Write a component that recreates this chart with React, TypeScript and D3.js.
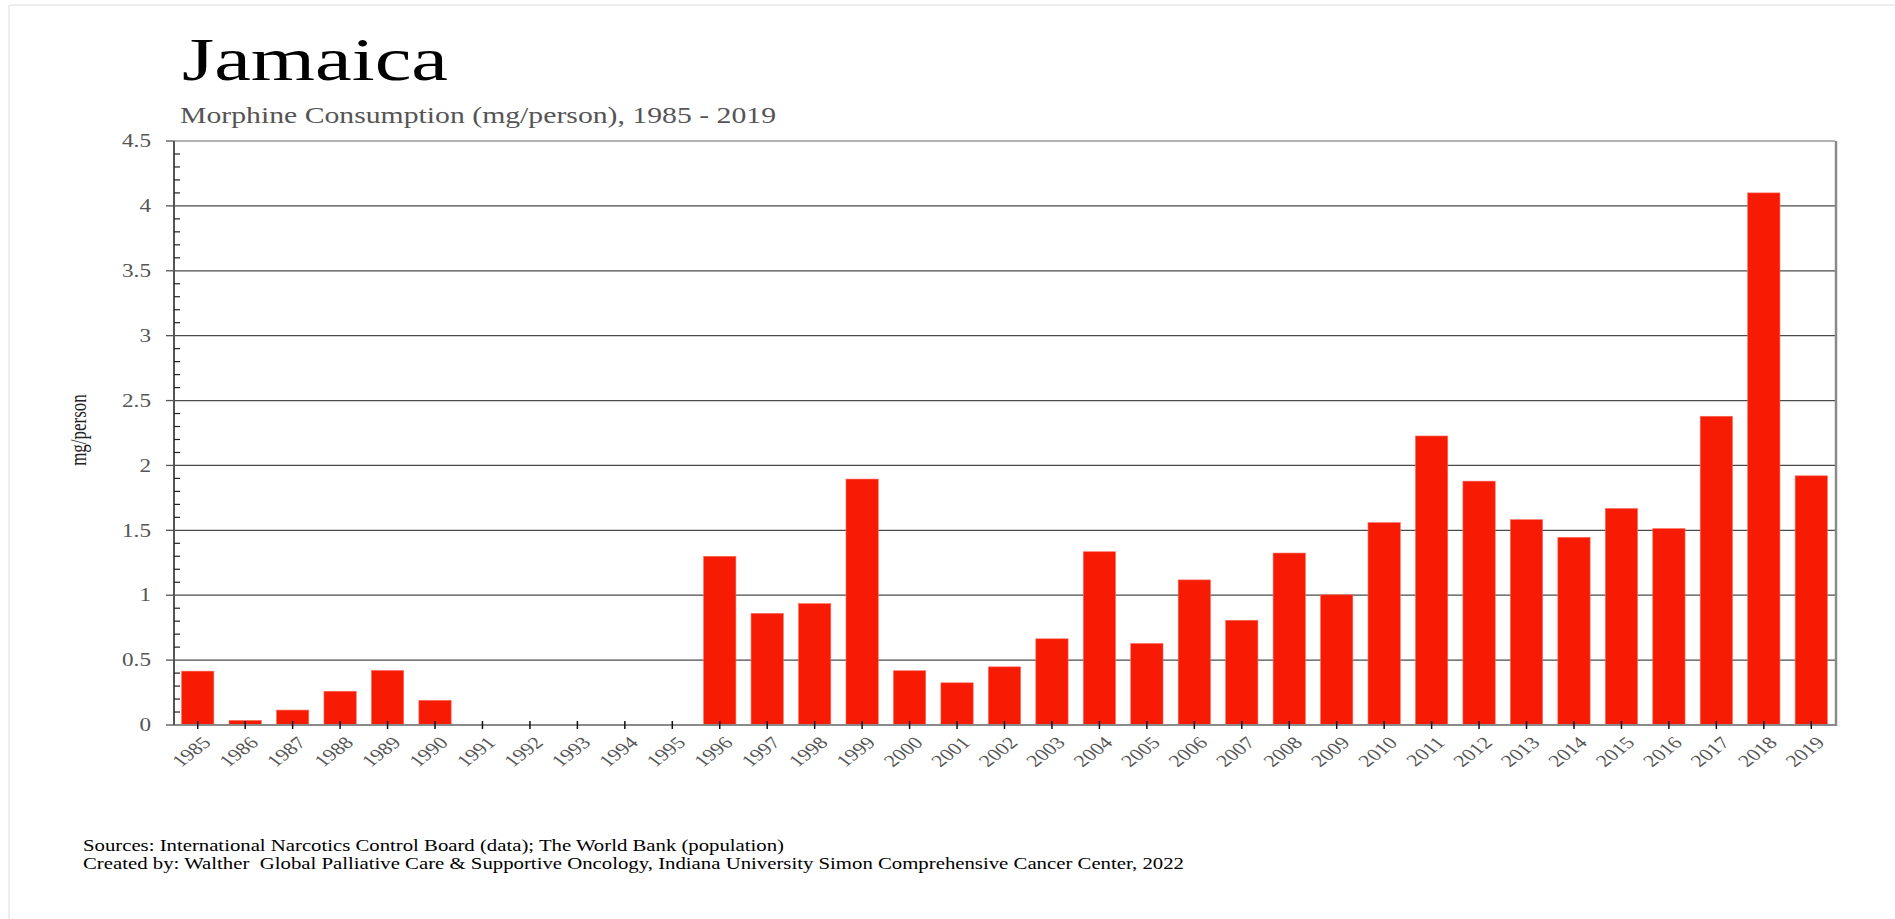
import React from "react";
import * as d3 from "d3";

const years: string[] = [
  "1985","1986","1987","1988","1989","1990","1991","1992","1993","1994","1995","1996",
  "1997","1998","1999","2000","2001","2002","2003","2004","2005","2006","2007","2008",
  "2009","2010","2011","2012","2013","2014","2015","2016","2017","2018","2019",
];
const values: number[] = [
  0.415, 0.035, 0.115, 0.26, 0.42, 0.19, 0, 0, 0, 0, 0, 1.3,
  0.86, 0.935, 1.895, 0.418, 0.325, 0.448, 0.664, 1.335, 0.628, 1.118, 0.807, 1.325,
  1.003, 1.559, 2.227, 1.879, 1.582, 1.446, 1.668, 1.513, 2.379, 4.1, 1.92,
];
const yMajorTicks: number[] = [0, 0.5, 1, 1.5, 2, 2.5, 3, 3.5, 4, 4.5];
const yTickLabels: string[] = ["0", "0.5", "1", "1.5", "2", "2.5", "3", "3.5", "4", "4.5"];

const title = "Jamaica";
const subtitle = "Morphine Consumption (mg/person), 1985 - 2019";
const yAxisTitle = "mg/person";
const footer1 = "Sources: International Narcotics Control Board (data); The World Bank (population)";
const footer2 =
  "Created by: Walther  Global Palliative Care & Supportive Oncology, Indiana University Simon Comprehensive Cancer Center, 2022";

const W = 1895;
const H = 919;
const left = 174;
const right = 1835;
const top = 141;
const bottom = 725;
const SX = 1.3;
const FONT = "Liberation Serif";

export default function App() {
  const x = d3.scaleBand<string>().domain(years).range([left, right]).paddingInner(0.32).paddingOuter(0.16);
  const y = d3.scaleLinear().domain([0, 4.5]).range([bottom, top]);
  const minor = d3.range(0, 4.5001, 0.1).filter((v) => Math.abs(v * 2 - Math.round(v * 2)) > 1e-6);

  return (
    <svg
      width={W}
      height={H}
      fontFamily={FONT}
      style={{ position: "absolute", left: 0, top: 0, background: "#fff" }}
    >
      {/* outer light border */}
      <line x1={9} y1={5} x2={W} y2={5} stroke="#dcdcdc" strokeWidth={1} />
      <line x1={9} y1={5} x2={9} y2={H} stroke="#dcdcdc" strokeWidth={1} />

      {/* title */}
      <text x={182} y={80} fontFamily={FONT} fontSize={62} fill="#000" textLength={266} lengthAdjust="spacingAndGlyphs">
        {title}
      </text>
      <text x={180} y={123} fontFamily={FONT} fontSize={24} fill="#555" textLength={596} lengthAdjust="spacingAndGlyphs">
        {subtitle}
      </text>

      {/* gridlines */}
      {yMajorTicks.map((t) =>
        t > 0 && t < 4.5 ? (
          <line key={"g" + t} x1={left} x2={right} y1={y(t)} y2={y(t)} stroke="#4a4a4a" strokeWidth={1.3} />
        ) : null
      )}
      {/* top frame */}
      <line x1={left} x2={right} y1={y(4.5)} y2={y(4.5)} stroke="#9a9a9a" strokeWidth={1.5} />
      {/* right frame */}
      <line x1={right + 1} x2={right + 1} y1={top} y2={bottom + 1} stroke="#8a8a8a" strokeWidth={2.5} />

      {/* bars */}
      {years.map((yr, i) =>
        values[i] > 0 ? (
          <rect
            key={yr}
            x={x(yr)}
            y={y(values[i])}
            width={x.bandwidth()}
            height={y(0) - y(values[i])}
            fill="#f81b04"
            stroke="#fb6a5a"
            strokeWidth={0.6}
          />
        ) : null
      )}

      {/* x axis */}
      <line x1={left} x2={right + 2} y1={bottom} y2={bottom} stroke="#8a8a8a" strokeWidth={2} />
      {years.map((yr) => {
        const cx = (x(yr) as number) + x.bandwidth() / 2;
        return (
          <g key={"xt" + yr}>
            <line x1={cx} x2={cx} y1={bottom - 4} y2={bottom + 4} stroke="#111" strokeWidth={1.5} />
            <text
              transform={`translate(${cx + 3},${bottom + 10}) scale(${SX},1) rotate(-45)`}
              fontFamily={FONT}
              fontSize={17}
              fill="#555"
              textAnchor="end"
              dominantBaseline="hanging"
            >
              {yr}
            </text>
          </g>
        );
      })}

      {/* y axis */}
      <line x1={left} x2={left} y1={top} y2={bottom} stroke="#555" strokeWidth={2} />
      {minor.map((m) => (
        <line key={"m" + m.toFixed(1)} x1={left} x2={left + 6} y1={y(m)} y2={y(m)} stroke="#222" strokeWidth={1.2} />
      ))}
      {yMajorTicks.map((t, i) => (
        <g key={"yt" + t}>
          <line x1={left - 8} x2={left} y1={y(t)} y2={y(t)} stroke="#555" strokeWidth={1.3} />
          <text
            transform={`translate(151,${y(t)}) scale(1.22,1)`}
            fontFamily={FONT}
            fontSize={19}
            fill="#555"
            textAnchor="end"
            dominantBaseline="central"
          >
            {yTickLabels[i]}
          </text>
        </g>
      ))}
      <text
        transform={`translate(78,430) scale(${SX},1) rotate(-90)`}
        fontFamily={FONT}
        fontSize={17}
        fill="#222"
        textAnchor="middle"
        dominantBaseline="central"
      >
        {yAxisTitle}
      </text>

      {/* footer */}
      <text x={83} y={851} fontFamily={FONT} fontSize={16} fill="#000" textLength={701} lengthAdjust="spacingAndGlyphs" style={{ whiteSpace: "pre" }}>
        {footer1}
      </text>
      <text x={83} y={869} fontFamily={FONT} fontSize={16} fill="#000" textLength={1101} lengthAdjust="spacingAndGlyphs" style={{ whiteSpace: "pre" }}>
        {footer2}
      </text>
    </svg>
  );
}
